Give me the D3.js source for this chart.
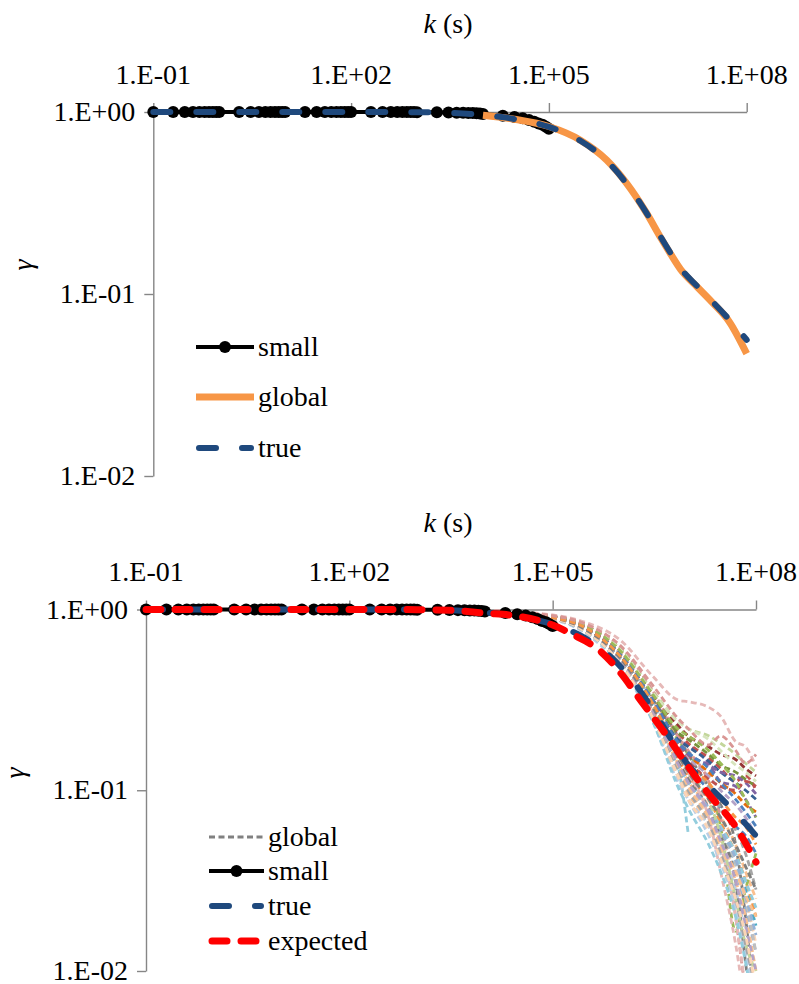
<!DOCTYPE html>
<html>
<head>
<meta charset="utf-8">
<script src="https://cdn.jsdelivr.net/npm/d3@7"></script>
</head>
<body style="margin:0;background:#fff">
<svg id="chart" width="799" height="984" style="display:block"></svg>
<script>
// ---- axis ticks ----
const kTicks = [0.1, 100, 1e5, 1e8];
const kTickLabels = ["1.E-01", "1.E+02", "1.E+05", "1.E+08"];
const gammaTicks = [1, 0.1, 0.01];
const gammaTickLabels = ["1.E+00", "1.E-01", "1.E-02"];

// ---- small-sample estimate (both panels) ----
const smallK = [
  0.1, 0.2, 0.3, 0.4, 0.5, 0.6, 0.7, 0.8, 0.9,
  1, 2, 3, 4, 5, 6, 7, 8, 9,
  10, 20, 30, 40, 50, 60, 70, 80, 90,
  100, 200, 300, 400, 500, 600, 700, 800, 900,
  1000, 2000, 3000, 4000, 5000, 6000, 7000, 8000, 9000,
  10000, 20000, 30000, 40000, 50000, 60000, 70000, 80000, 90000,
  100000
];
const smallGamma = [
  1, 1, 1, 1, 1, 1, 1, 1, 1,
  1, 1, 1, 1, 1, 1, 1, 1, 1,
  1, 1, 1, 1, 1, 1, 1, 1, 1,
  1, 1, 1, 1, 1, 1, 1, 0.999, 0.999,
  0.998, 0.996, 0.994, 0.992, 0.99, 0.988, 0.986, 0.984, 0.982,
  0.975, 0.955, 0.94, 0.925, 0.905, 0.885, 0.865, 0.85, 0.83,
  0.81
];

// ---- true curve (both panels) ----
const trueK = [0.1, 1, 10, 100, 1000, 3000, 1e4, 3e4, 1e5, 3e5, 7.5e5, 1.5e6, 3e6, 5e6, 7e6, 1e7, 1.75e7, 3e7, 5.5e7, 1e8];
const trueGamma = [1, 1, 1, 1, 0.998, 0.99, 0.962, 0.915, 0.828, 0.695, 0.54, 0.405, 0.28, 0.205, 0.168, 0.138, 0.111, 0.091, 0.072, 0.056];

// ---- global estimate (upper panel) ----
const globalK = [1e4, 3e4, 1e5, 3e5, 7.5e5, 1.5e6, 3e6, 5e6, 7e6, 1e7, 1.75e7, 3e7, 5.5e7, 1e8];
const globalGamma = [0.959, 0.912, 0.832, 0.70, 0.545, 0.407, 0.28, 0.203, 0.166, 0.136, 0.11, 0.09, 0.07, 0.047];

// ---- expected curve (lower panel) ----
const expectedK = [0.1, 1, 10, 100, 1000, 3000, 1e4, 3e4, 1e5, 2e5, 5e5, 1e6, 2e6, 5e6, 1e7, 2e7, 5e7, 1e8];
const expectedGamma = [1, 1, 1, 1, 0.998, 0.99, 0.955, 0.92, 0.82, 0.725, 0.59, 0.447, 0.313, 0.197, 0.135, 0.0955, 0.063, 0.04];

// ---- global estimates from individual samples (lower panel) ----
const sampleK = [1e4, 1e5, 3e5, 1e6, 3e6, 7e6, 1e7, 2e7, 3e7, 5e7, 7e7, 1e8];
const sampleGamma = [
  [0.977, 0.891, 0.759, 0.537, 0.316, 0.200, 0.158, 0.105, 0.0832, 0.0501, 0.0200, 0.0050],
  [0.989, 0.933, 0.851, 0.676, 0.427, 0.316, 0.309, 0.288, 0.257, 0.186, 0.174, 0.135],
  [0.977, 0.912, 0.813, 0.603, 0.355, 0.240, 0.219, 0.200, 0.182, 0.158, 0.141, 0.126],
  [0.977, 0.891, 0.776, 0.525, 0.302, 0.141, 0.0575, null, null, null, null, null],
  [0.977, 0.891, 0.759, 0.501, 0.263, 0.126, 0.100, 0.0759, 0.0562, 0.0355, 0.0224, 0.0126],
  [0.977, 0.902, 0.794, 0.550, 0.282, 0.141, 0.112, 0.0832, 0.0708, 0.0501, 0.0355, 0.0251],
  [0.977, 0.912, 0.813, 0.589, 0.331, 0.191, 0.158, 0.112, 0.0631, 0.0166, 0.0282, 0.0447],
  [0.977, 0.923, 0.832, 0.617, 0.355, 0.200, 0.166, 0.112, 0.0708, 0.0200, 0.0079, 0.0040],
  [0.977, 0.902, 0.794, 0.562, 0.316, 0.191, 0.178, 0.141, 0.112, 0.105, 0.0891, 0.0708],
  [0.977, 0.912, 0.813, 0.575, 0.331, 0.209, 0.182, 0.151, 0.132, 0.112, 0.120, 0.100],
  [0.977, 0.891, 0.776, 0.537, 0.282, 0.158, 0.132, 0.100, 0.0794, 0.0631, 0.0562, 0.0447],
  [0.977, 0.891, 0.759, 0.513, 0.275, 0.151, 0.120, 0.0891, 0.0661, 0.0447, 0.0316, 0.0200],
  [0.977, 0.881, 0.741, 0.479, 0.240, 0.112, 0.0891, 0.0631, 0.0447, 0.0282, 0.0158, 0.0063],
  [0.977, 0.902, 0.776, 0.550, 0.302, 0.166, 0.138, 0.105, 0.0794, 0.0603, 0.0447, 0.0282],
  [0.977, 0.891, 0.759, 0.513, 0.263, 0.138, 0.112, 0.0794, 0.0603, 0.0398, 0.0282, 0.0178],
  [0.977, 0.912, 0.794, 0.562, 0.316, 0.178, 0.151, 0.120, 0.100, 0.0832, 0.0708, 0.0562],
  [0.977, 0.902, 0.794, 0.550, 0.302, 0.182, 0.158, 0.126, 0.110, 0.0955, 0.0832, 0.0759],
  [0.977, 0.891, 0.759, 0.501, 0.251, 0.126, 0.100, 0.0708, 0.0525, 0.0355, 0.0251, 0.0141],
  [0.977, 0.912, 0.813, 0.603, 0.339, 0.209, 0.191, 0.158, 0.138, 0.126, 0.115, 0.105],
  [0.977, 0.902, 0.794, 0.562, 0.316, 0.191, 0.174, 0.145, 0.126, 0.110, 0.100, 0.0891],
  [0.977, 0.912, 0.813, 0.589, 0.339, 0.229, 0.200, 0.174, 0.158, 0.148, 0.132, 0.120],
  [0.977, 0.891, 0.759, 0.501, 0.263, 0.132, 0.105, 0.0759, 0.0562, 0.0398, 0.0251, 0.0126],
  [0.977, 0.902, 0.776, 0.537, 0.282, 0.151, 0.120, 0.0794, 0.0501, 0.0200, 0.0079, 0.0032],
  [0.977, 0.912, 0.813, 0.603, 0.347, 0.240, 0.219, 0.191, 0.166, 0.138, 0.126, 0.112],
  [0.977, 0.891, 0.759, 0.501, 0.263, 0.132, 0.110, 0.0794, 0.0631, 0.0447, 0.0316, 0.0224],
  [0.977, 0.891, 0.776, 0.525, 0.282, 0.145, 0.115, 0.0794, 0.0562, 0.0316, 0.0112, 0.0040],
  [0.977, 0.891, 0.759, 0.501, 0.251, 0.120, 0.0955, 0.0661, 0.0479, 0.0316, 0.0200, 0.0100],
  [0.977, 0.891, 0.759, 0.513, 0.269, 0.138, 0.110, 0.0794, 0.0603, 0.0417, 0.0263, 0.0158],
  [0.977, 0.912, 0.813, 0.575, 0.316, 0.166, 0.126, 0.0708, 0.0355, 0.0141, 0.0063, 0.0032],
  [0.977, 0.902, 0.794, 0.550, 0.295, 0.158, 0.126, 0.0891, 0.0562, 0.0251, 0.0141, 0.0100],
  [0.977, 0.891, 0.759, 0.501, 0.251, 0.120, 0.0891, 0.0562, 0.0398, 0.0224, 0.0126, 0.0063],
  [0.977, 0.891, 0.759, 0.513, 0.269, 0.132, 0.100, 0.0661, 0.0447, 0.0251, 0.0141, 0.0079],
  [0.977, 0.902, 0.794, 0.562, 0.316, 0.182, 0.158, 0.138, 0.126, 0.120, 0.110, 0.0955],
  [0.977, 0.902, 0.794, 0.550, 0.302, 0.174, 0.145, 0.115, 0.105, 0.100, 0.112, 0.105],
  [0.977, 0.891, 0.776, 0.525, 0.275, 0.138, 0.105, 0.0708, 0.0501, 0.0355, 0.0263, 0.0200],
  [0.977, 0.912, 0.794, 0.562, 0.316, 0.186, 0.162, 0.132, 0.110, 0.0891, 0.0759, 0.0631],
  [0.977, 0.891, 0.759, 0.490, 0.240, 0.105, 0.0794, 0.0501, 0.0355, 0.0200, 0.0112, 0.0050],
  [0.977, 0.912, 0.813, 0.589, 0.339, 0.219, 0.200, 0.166, 0.141, 0.112, 0.0891, 0.0708],
  [0.977, 0.891, 0.776, 0.525, 0.275, 0.141, 0.110, 0.0759, 0.0525, 0.0316, 0.0178, 0.0100],
  [0.977, 0.891, 0.759, 0.501, 0.251, 0.120, 0.0891, 0.0603, 0.0417, 0.0251, 0.0158, 0.0079],
  [0.977, 0.902, 0.776, 0.537, 0.288, 0.158, 0.126, 0.0891, 0.0708, 0.0501, 0.0380, 0.0282],
  [0.977, 0.902, 0.794, 0.550, 0.302, 0.166, 0.138, 0.110, 0.0891, 0.0708, 0.0631, 0.0501],
  [0.989, 0.923, 0.832, 0.631, 0.380, 0.251, 0.219, 0.178, 0.200, 0.166, 0.141, 0.158]
];
const sampleColors = [
  "#7F7F7F", "#E6B9B8", "#C3D69B", "#93CDDD", "#95B3D7", "#FAC090", "#9BBB59",
  "#D99694", "#8064A2", "#C0504D", "#4F81BD", "#F79646", "#B9CDE5", "#A6A6A6",
  "#4BACC6", "#B3A2C7", "#E46C0A", "#FCD5B5", "#77933C", "#376092", "#953735",
  "#BFBFBF", "#E6B9B8", "#D7E4BD", "#93CDDD", "#7F7F7F", "#FAC090", "#95B3D7",
  "#E6B9B8", "#C3D69B", "#B9CDE5", "#A6A6A6", "#8064A2", "#C0504D", "#FAC090",
  "#4F81BD", "#93CDDD", "#9BBB59", "#B3A2C7", "#FCD5B5", "#7F7F7F", "#F79646",
  "#D99694"
];

// ---- styles ----
const AXIS_COLOR = "#868686";
const COLORS = { small: "#000000", global: "#F79646", true: "#1F497D", expected: "#FF0000", sampleLegend: "#808080" };
const FS = 28;
const TEXT_STYLE = `font-family: 'Liberation Serif', serif !important; font-size: ${FS}px;`;

const svg = d3.select("#chart");
const zip = (ks, gs) => ks.map((k, i) => ({ k, g: gs[i] }));
const addText = parent => parent.append("text").attr("font-family", "Liberation Serif")
  .attr("font-size", FS).attr("style", TEXT_STYLE).attr("fill", "#000");

function drawPanel(p) {
  const x = d3.scaleLog().domain([0.1, 1e8]).range([p.x0, p.x1]);
  const y = d3.scaleLog().domain([0.01, 1]).range([p.y1, p.y0]);
  const g = svg.append("g");

  // clip for lines that run below the lowest decade
  const clipId = "clip" + p.id;
  svg.append("defs").append("clipPath").attr("id", clipId)
    .append("rect").attr("x", p.x0 - 10).attr("y", p.y0 - 20)
    .attr("width", p.x1 - p.x0 + 20).attr("height", p.y1 - p.y0 + 22);

  // axis lines and ticks; labels are written as separate text below
  const xAxis = d3.axisTop(x).tickValues(kTicks).tickFormat("").tickSize(9).tickSizeOuter(0);
  const yAxis = d3.axisLeft(y).tickValues(gammaTicks).tickFormat("").tickSize(9).tickSizeOuter(0);
  const ax = g.append("g").attr("transform", `translate(0,${y(1)})`).call(xAxis);
  const ay = g.append("g").attr("transform", `translate(${x(0.1)},0)`).call(yAxis);
  [ax, ay].forEach(a => {
    a.select(".domain").attr("stroke", AXIS_COLOR).attr("stroke-width", 1.4);
    a.selectAll(".tick line").attr("stroke", AXIS_COLOR).attr("stroke-width", 1.4);
    a.selectAll(".tick text").remove();
  });

  kTicks.forEach((d, i) => {
    addText(g).attr("x", x(d)).attr("y", y(1) - p.xLab)
      .attr("text-anchor", "middle").text(kTickLabels[i]);
  });
  gammaTicks.forEach((d, i) => {
    addText(g).attr("x", x(0.1) - 18).attr("y", y(d)).attr("dy", "0.33em")
      .attr("text-anchor", "end").text(gammaTickLabels[i]);
  });

  // axis titles
  const tx = addText(g).attr("x", p.titleX).attr("y", p.titleY).attr("text-anchor", "middle");
  tx.append("tspan").attr("font-style", "italic").text("k");
  tx.append("tspan").text(" (s)");
  addText(g).attr("transform", `translate(${p.gammaX},${p.gammaY}) rotate(-90)`)
    .attr("text-anchor", "middle").attr("font-style", "italic").text("γ");

  const line = d3.line().defined(d => d.g != null)
    .x(d => x(d.k)).y(d => y(d.g)).curve(d3.curveMonotoneX);
  const layer = g.append("g");

  if (p.samples) {
    const sl = layer.append("g").attr("clip-path", `url(#${clipId})`);
    sampleGamma.forEach((arr, i) => {
      sl.append("path").attr("d", line(zip(sampleK, arr)))
        .attr("fill", "none").attr("stroke", sampleColors[i])
        .attr("stroke-width", 2.8).attr("stroke-dasharray", "6 3.5");
    });
  }

  // small-sample estimate
  const sd = zip(smallK, smallGamma);
  layer.append("path").attr("d", d3.line().x(d => x(d.k)).y(d => y(d.g))(sd))
    .attr("fill", "none").attr("stroke", COLORS.small).attr("stroke-width", 4);
  layer.append("g").selectAll("circle").data(sd).join("circle")
    .attr("cx", d => x(d.k)).attr("cy", d => y(d.g)).attr("r", 6).attr("fill", COLORS.small);

  if (p.global) {
    layer.append("path").attr("d", line(zip(globalK, globalGamma)))
      .attr("clip-path", `url(#${clipId})`)
      .attr("fill", "none").attr("stroke", COLORS.global).attr("stroke-width", 7);
  }

  layer.append("path").attr("d", line(zip(trueK, trueGamma)))
    .attr("fill", "none").attr("stroke", COLORS.true).attr("stroke-width", 6)
    .attr("stroke-linecap", "round").attr("stroke-dasharray", "17 26");

  if (p.expected) {
    layer.append("path").attr("d", line(zip(expectedK, expectedGamma)))
      .attr("fill", "none").attr("stroke", COLORS.expected).attr("stroke-width", 7)
      .attr("stroke-linecap", "round").attr("stroke-dasharray", "15 14");
  }

  // legend
  const lg = g.append("g");
  p.legend.forEach(item => {
    const row = lg.append("g").attr("transform", `translate(0,${item.y})`);
    const l = row.append("line").attr("x1", p.legX0).attr("x2", p.legX1).attr("y1", 0).attr("y2", 0)
      .attr("fill", "none");
    if (item.key === "small") {
      l.attr("stroke", COLORS.small).attr("stroke-width", 4);
      row.append("circle").attr("cx", (p.legX0 + p.legX1) / 2).attr("cy", 0).attr("r", 6).attr("fill", COLORS.small);
    } else if (item.key === "global") {
      if (p.samples) l.attr("stroke", COLORS.sampleLegend).attr("stroke-width", 2.8).attr("stroke-dasharray", "6 3.5");
      else l.attr("stroke", COLORS.global).attr("stroke-width", 7);
    } else if (item.key === "true") {
      l.attr("x1", p.legX0 + 3).attr("x2", p.legX1 - 3)
        .attr("stroke", COLORS.true).attr("stroke-width", 6).attr("stroke-linecap", "round").attr("stroke-dasharray", "17 26");
    } else if (item.key === "expected") {
      l.attr("x1", p.legX0 + 3).attr("x2", p.legX1 - 3)
        .attr("stroke", COLORS.expected).attr("stroke-width", 7).attr("stroke-linecap", "round").attr("stroke-dasharray", "15 14");
    }
    addText(row).attr("x", p.legX1 + 4).attr("y", 0).attr("dy", "0.33em").text(item.label);
  });
}

drawPanel({
  id: "top", x0: 153.3, x1: 746.7, y0: 112, y1: 476, xLab: 28,
  titleX: 448, titleY: 33, gammaX: 32, gammaY: 265,
  global: true, samples: false, expected: false,
  legX0: 196, legX1: 254,
  legend: [{ key: "small", label: "small", y: 347 }, { key: "global", label: "global", y: 397 }, { key: "true", label: "true", y: 448 }]
});

drawPanel({
  id: "bottom", x0: 146, x1: 756, y0: 609.5, y1: 971, xLab: 28.5,
  titleX: 448, titleY: 532, gammaX: 24, gammaY: 773,
  global: false, samples: true, expected: true,
  legX0: 209, legX1: 264,
  legend: [{ key: "global", label: "global", y: 837 }, { key: "small", label: "small", y: 871 }, { key: "true", label: "true", y: 906 }, { key: "expected", label: "expected", y: 941 }]
});
</script>
</body>
</html>
